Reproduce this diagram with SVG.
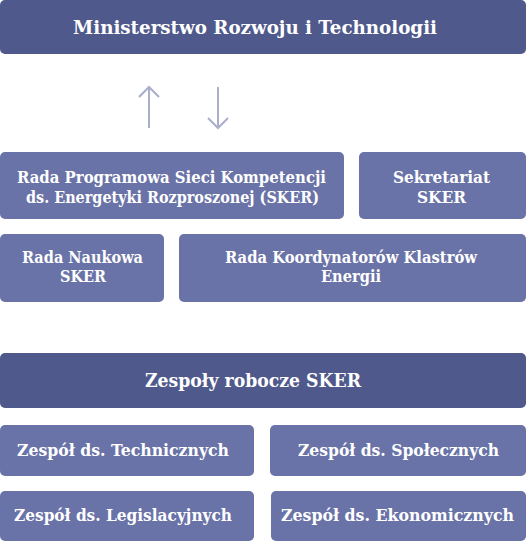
<svg xmlns="http://www.w3.org/2000/svg" width="526" height="542" viewBox="0 0 526 542">
<style>
.dark{fill:#4f598c}
.light{fill:#6a73a7}
text{font-family:"DejaVu Serif","Liberation Serif",serif;font-weight:bold;fill:#ffffff;text-anchor:middle}
.t{font-size:16px}
.big{font-size:19px}
.arr{stroke:#a9afcb;stroke-width:2;fill:none}
</style>
<g id="ministerstwo">
<rect class="dark" x="0" y="0" width="526" height="54" rx="5"/>
<text class="big" x="255" y="34" textLength="364" lengthAdjust="spacingAndGlyphs">Ministerstwo Rozwoju i Technologii</text>
</g>
<g id="connectors">
<path class="arr" d="M149,128 V88 M139,97 L149,87 L159,97"/>
<path class="arr" d="M218,87 V127 M208,118 L218,128 L228,118"/>
</g>
<g id="rada-programowa">
<rect class="light" x="0" y="152" width="344" height="67" rx="5"/>
<text class="t" x="171.5" y="183" textLength="309" lengthAdjust="spacingAndGlyphs">Rada Programowa Sieci Kompetencji</text>
<text class="t" x="172.5" y="203" textLength="293" lengthAdjust="spacingAndGlyphs">ds. Energetyki Rozproszonej (SKER)</text>
</g>
<g id="sekretariat">
<rect class="light" x="359" y="152" width="167" height="67" rx="5"/>
<text class="t" x="441.5" y="183" textLength="97" lengthAdjust="spacingAndGlyphs">Sekretariat</text>
<text class="t" x="441.5" y="203" textLength="49" lengthAdjust="spacingAndGlyphs">SKER</text>
</g>
<g id="rada-naukowa">
<rect class="light" x="0" y="234" width="164" height="68" rx="5"/>
<text class="t" x="82.5" y="263" textLength="121" lengthAdjust="spacingAndGlyphs">Rada Naukowa</text>
<text class="t" x="83" y="282" textLength="46" lengthAdjust="spacingAndGlyphs">SKER</text>
</g>
<g id="rada-koordynatorow">
<rect class="light" x="179" y="234" width="347" height="68" rx="5"/>
<text class="t" x="351" y="263" textLength="252" lengthAdjust="spacingAndGlyphs">Rada Koordynatorów Klastrów</text>
<text class="t" x="351" y="282" textLength="60" lengthAdjust="spacingAndGlyphs">Energii</text>
</g>
<g id="zespoly-robocze">
<rect class="dark" x="0" y="353" width="526" height="55" rx="5"/>
<text class="big" x="253" y="387" textLength="216" lengthAdjust="spacingAndGlyphs">Zespoły robocze SKER</text>
</g>
<g id="zespol-techniczny">
<rect class="light" x="0" y="425" width="254" height="51" rx="5"/>
<text class="t" x="123" y="456" textLength="212" lengthAdjust="spacingAndGlyphs">Zespół ds. Technicznych</text>
</g>
<g id="zespol-spoleczny">
<rect class="light" x="270" y="425" width="256" height="51" rx="5"/>
<text class="t" x="398.5" y="456" textLength="201" lengthAdjust="spacingAndGlyphs">Zespół ds. Społecznych</text>
</g>
<g id="zespol-legislacyjny">
<rect class="light" x="0" y="491" width="254" height="50" rx="5"/>
<text class="t" x="123" y="521" textLength="218" lengthAdjust="spacingAndGlyphs">Zespół ds. Legislacyjnych</text>
</g>
<g id="zespol-ekonomiczny">
<rect class="light" x="271" y="491" width="255" height="50" rx="5"/>
<text class="t" x="397.5" y="521" textLength="233" lengthAdjust="spacingAndGlyphs">Zespół ds. Ekonomicznych</text>
</g>
</svg>
